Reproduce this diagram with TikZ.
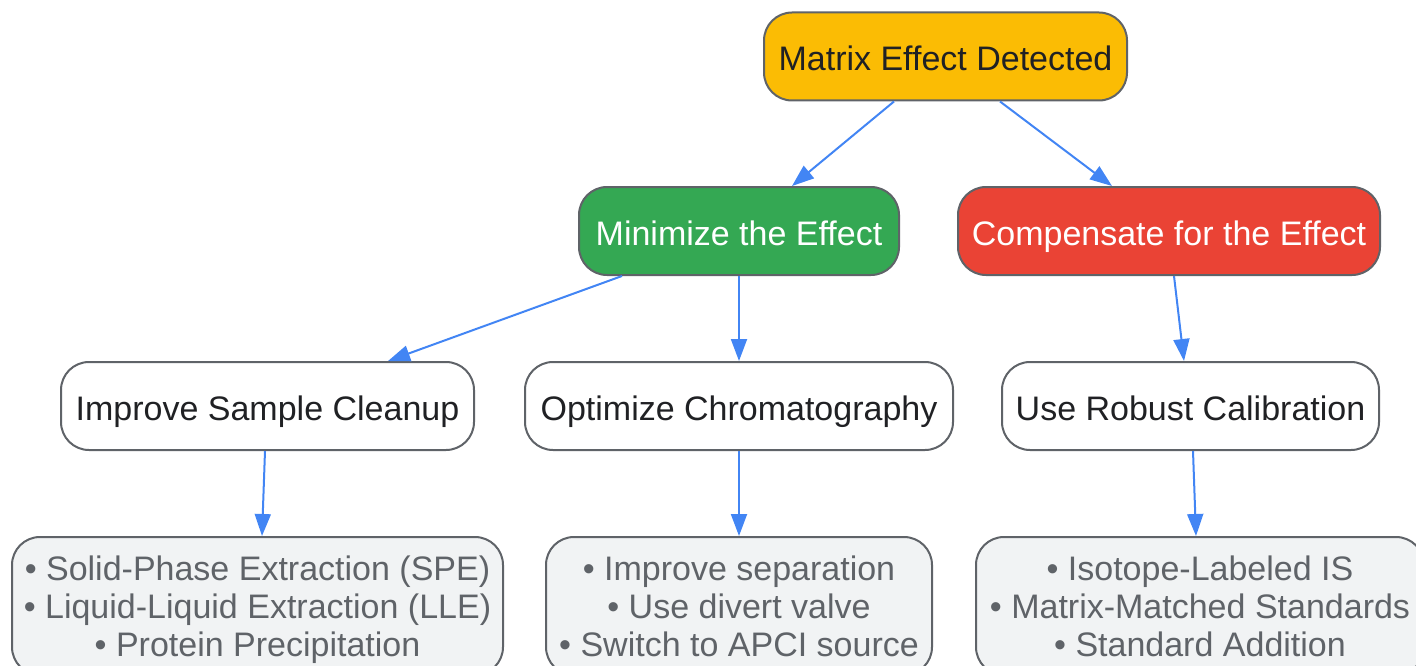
\documentclass[tikz,border=0pt]{standalone}
\usepackage{fontspec}
\setmainfont{Liberation Sans}
\usetikzlibrary{arrows.meta,positioning}
\definecolor{boxedge}{HTML}{5F6368}
\definecolor{darktext}{HTML}{202124}
\definecolor{amber}{HTML}{FBBC04}
\definecolor{leafgreen}{HTML}{34A853}
\definecolor{alertred}{HTML}{EA4335}
\definecolor{pale}{HTML}{F1F3F4}
\definecolor{linkblue}{HTML}{4285F4}
\newcommand{\boxfont}{\fontsize{34}{38}\selectfont}
\tikzset{
    box/.style = {
        draw = boxedge,
        line width = 2pt,
        rounded corners = 28pt,
        inner sep = 0pt,
        minimum height = 88pt,
        font = \boxfont,
        },
    one line/.style = {
        text height = 28pt,
        text depth = 0pt,
        },
    root/.style = {
        fill = amber,
        text = darktext,
        },
    minimize/.style = {
        fill = leafgreen,
        text = white,
        },
    compensate/.style = {
        fill = alertred,
        text = white,
        },
    action/.style = {
        fill = white,
        text = darktext,
        },
    detail/.style = {
        fill = pale,
        text = boxedge,
        align = center,
        text height = 101pt,
        text depth = 0pt,
        minimum height = 138pt,
        },
    flow/.style = {
        draw = linkblue,
        line width = 2pt,
        -{Triangle[length=22pt,width=16pt]},
        },
}
\begin{document}
\begin{tikzpicture}[x=1pt, y=-1pt, node distance=85pt]
    \useasboundingbox (0,0) rectangle (1416,666);

    \node[box, one line, root, minimum width=363pt] (top) at (945.5,56.5) {Matrix Effect Detected};
    \node[box, one line, minimize, minimum width=320pt] (min) at (739,231) {Minimize the Effect};
    \node[box, one line, compensate, minimum width=422pt] (comp) at (1169,231) {Compensate for the Effect};

    \node[box, one line, action, minimum width=413pt] (clean) at (267.5,406) {Improve Sample Cleanup};
    \node[box, one line, action, minimum width=428pt, below=of min] (chrom) {Optimize Chromatography};
    \node[box, one line, action, minimum width=377pt] (calib) at (1190.5,406) {Use Robust Calibration};

    \node[box, detail, minimum width=491pt] (cleanlist) at (257.5,606)
        {• Solid-Phase Extraction (SPE)\\• Liquid-Liquid Extraction (LLE)\\• Protein Precipitation};
    \node[box, detail, minimum width=386pt, below=of chrom] (chromlist)
        {• Improve separation\\• Use divert valve\\• Switch to APCI source};
    \node[box, detail, minimum width=448pt] (caliblist) at (1200,606)
        {• Isotope-Labeled IS\\• Matrix-Matched Standards\\• Standard Addition};

    \draw[flow] ([xshift=-51.5pt]top.south) -- ([xshift=53pt]min.north);
    \draw[flow] ([xshift=54.5pt]top.south) -- ([xshift=-57pt]comp.north);
    \draw[flow] ([xshift=-117pt]min.south) -- ([xshift=120.5pt]clean.north);
    \draw[flow] (min) -- (chrom);
    \draw[flow] ([xshift=5pt]comp.south) -- ([xshift=-6.5pt]calib.north);
    \draw[flow] ([xshift=-2.5pt]clean.south) -- ([xshift=4.5pt]cleanlist.north);
    \draw[flow] (chrom) -- (chromlist);
    \draw[flow] ([xshift=2.5pt]calib.south) -- ([xshift=-4pt]caliblist.north);
\end{tikzpicture}
\end{document}
